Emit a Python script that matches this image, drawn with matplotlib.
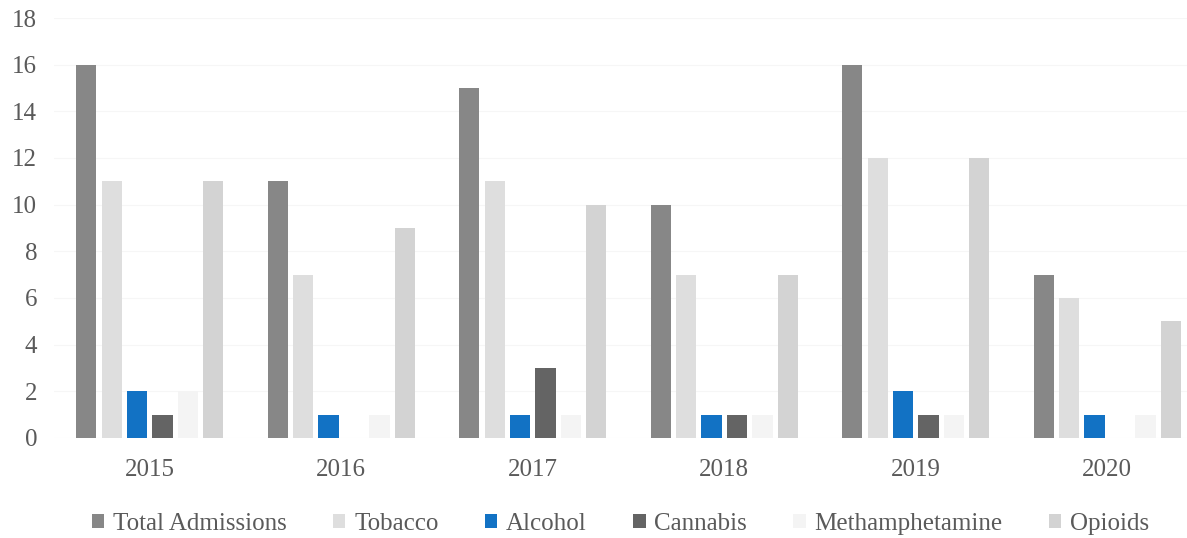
import matplotlib
matplotlib.use("Agg")
import matplotlib.pyplot as plt
import numpy as np

years = ["2015", "2016", "2017", "2018", "2019", "2020"]
series_names = ["Total Admissions", "Tobacco", "Alcohol", "Cannabis", "Methamphetamine", "Opioids"]
total = [16, 11, 15, 10, 16, 7]
tobacco = [11, 7, 11, 7, 12, 6]
alcohol = [2, 1, 1, 1, 2, 1]
cannabis = [1, 0, 3, 1, 1, 0]
meth = [2, 1, 1, 1, 1, 1]
opioids = [11, 9, 10, 7, 12, 5]
yticks = [0, 2, 4, 6, 8, 10, 12, 14, 16, 18]

series = [total, tobacco, alcohol, cannabis, meth, opioids]
colors = ["#878787", "#dedede", "#1272c4", "#646464", "#f4f4f4", "#d3d3d3"]

plt.rcParams['font.family'] = ['Liberation Serif', 'DejaVu Serif']

fig = plt.figure(figsize=(11.87, 5.38), dpi=100)
ax = fig.add_axes([0.0455, 0.186, 0.968, 0.7805])

x = np.arange(len(years))
step = 0.133
width = 0.105
for i, (vals, col, name) in enumerate(zip(series, colors, series_names)):
    offs = (i - 2.5) * step
    ax.bar(x + offs, vals, width=width, color=col, label=name, zorder=3)

ax.set_xlim(-0.5, 5.5)
ax.set_ylim(0, 18)
ax.set_yticks(yticks)
ax.set_xticks(x)
ax.set_xticklabels(years)
ax.tick_params(axis='both', length=0, labelsize=18, colors="#5a5a5a")
ax.tick_params(axis='x', pad=15)
ax.tick_params(axis='y', pad=12)
ax.yaxis.grid(True, color="#f6f6f6", linewidth=0.8, zorder=0)
for s in ax.spines.values():
    s.set_visible(False)

leg = ax.legend(loc='upper center', bbox_to_anchor=(0.493, -0.125), ncol=6, frameon=False,
                fontsize=18, handlelength=0.5, handleheight=0.5, handletextpad=0.35,
                columnspacing=1.85, labelcolor="#5a5a5a")

fig.savefig("out.png", dpi=100)
